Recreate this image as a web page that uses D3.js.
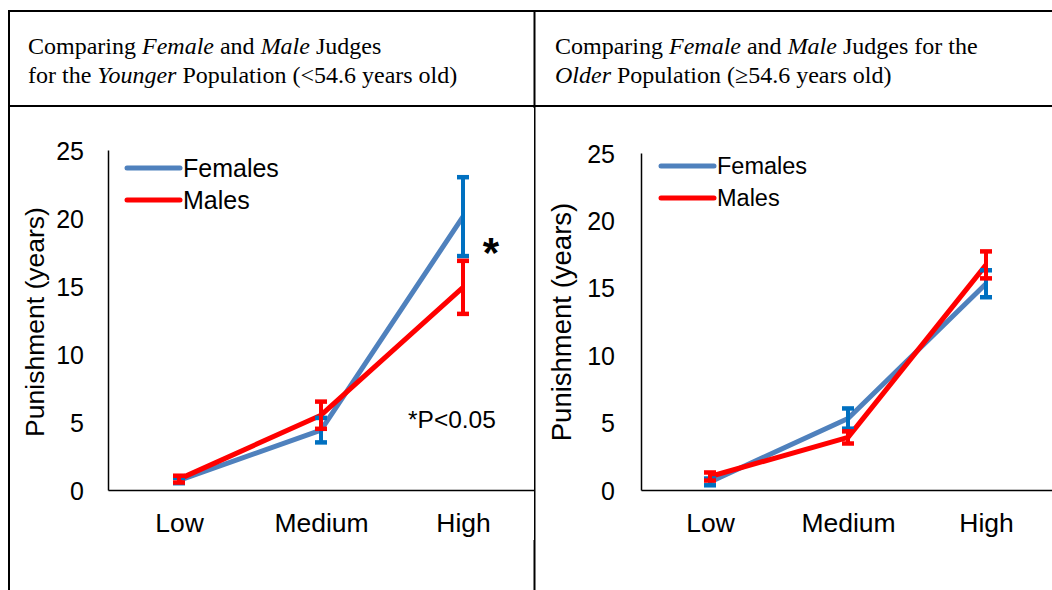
<!DOCTYPE html>
<html>
<head>
<meta charset="utf-8">
<script src="https://cdn.jsdelivr.net/npm/d3@7"></script>
<style>
  body { margin: 0; background: #fff; }
  svg { display: block; }
  .tick text { font-family: "Liberation Sans", Arial, sans-serif; fill: #000; }
</style>
</head>
<body>
<div id="chart"></div>
<script>
// categories and tick labels
var categories = ['Low', 'Medium', 'High'];
var yTicks = [0, 5, 10, 15, 20, 25];

// younger judges (<54.6)
var youngFemales = [0.7, 4.4, 20.1];
var youngFemalesErr = [0.2, 0.9, 2.9];
var youngMales = [0.8, 5.5, 14.9];
var youngMalesErr = [0.25, 1.0, 1.95];

// older judges (>=54.6)
var oldFemales = [0.6, 5.3, 15.3];
var oldFemalesErr = [0.25, 0.75, 1.0];
var oldMales = [1.0, 3.9, 16.7];
var oldMalesErr = [0.3, 0.45, 1.0];

var W = 1052, H = 590;
var svg = d3.select('#chart').append('svg')
    .attr('width', W)
    .attr('height', H);

/*
 * table frame round the two panels
 */
var frame = svg.append('g').attr('stroke', '#000').attr('stroke-width', 2);
frame.append('line').attr('x1', 8).attr('x2', W).attr('y1', 11).attr('y2', 11);
frame.append('line').attr('x1', 8).attr('x2', W).attr('y1', 106).attr('y2', 106);
frame.append('line').attr('x1', 9).attr('x2', 9).attr('y1', 10).attr('y2', H);
frame.append('line').attr('x1', 534.5).attr('x2', 534.5).attr('y1', 10).attr('y2', H);

function title(x, lines) {
    var t = svg.append('text')
        .attr('font-family', '"Liberation Serif", "Times New Roman", serif')
        .attr('font-size', 24)
        .attr('fill', '#000');
    lines.forEach(function (parts, i) {
        parts.forEach(function (p, j) {
            var s = t.append('tspan').text(p[0]);
            if (j === 0) s.attr('x', x).attr('y', 54 + i * 29);
            if (p[1]) s.attr('font-style', 'italic');
        });
    });
}

title(28, [
    [['Comparing '], ['Female', 1], [' and '], ['Male', 1], [' Judges']],
    [['for the '], ['Younger', 1], [' Population (<54.6 years old)']]
]);
title(555, [
    [['Comparing '], ['Female', 1], [' and '], ['Male', 1], [' Judges for the']],
    [['Older', 1], [' Population (\u226554.6 years old)']]
]);

var femaleColor = '#4F81BD',
    femaleBar = '#0070C0',
    maleColor = '#FF0000';

function panel(o) {
    var g = svg.append('g');
    g.append('rect')
        .attr('x', o.left).attr('y', 108)
        .attr('width', o.w).attr('height', 432)
        .attr('fill', '#fff');

    var x = d3.scalePoint()
        .domain(categories)
        .range([o.x0, o.x1])
        .padding(0.5);
    var y = d3.scaleLinear()
        .domain([0, 25])
        .range([490, o.top]);

    // y axis
    var ya = g.append('g')
        .attr('transform', 'translate(' + o.x0 + ',0)')
        .call(d3.axisLeft(y).tickValues(yTicks).tickSize(0).tickPadding(o.tickPad));
    ya.select('.domain').attr('stroke', '#000').attr('stroke-width', 1.5);
    ya.selectAll('text').attr('font-size', 25).attr('dy', '0.36em');

    // x axis
    var xa = g.append('g')
        .attr('transform', 'translate(0,490)')
        .call(d3.axisBottom(x).tickSize(0).tickPadding(23));
    xa.select('.domain').attr('stroke', '#000').attr('stroke-width', 1.5);
    xa.selectAll('text').attr('font-size', 26.5);

    g.append('text')
        .attr('transform', 'translate(' + o.titleX + ',' + 322 + ') rotate(-90)')
        .attr('text-anchor', 'middle')
        .attr('font-family', '"Liberation Sans", Arial, sans-serif')
        .attr('font-size', o.titleSize)
        .text('Punishment (years)');

    var line = d3.line()
        .x(function (d, i) { return x(categories[i]); })
        .y(function (d) { return y(d); });

    var series = [
        { v: o.females, e: o.femalesErr, c: femaleColor, bar: femaleBar },
        { v: o.males, e: o.malesErr, c: maleColor, bar: maleColor }
    ];

    series.forEach(function (s) {
        g.append('path')
            .datum(s.v)
            .attr('d', line)
            .attr('fill', 'none')
            .attr('stroke', s.c)
            .attr('stroke-width', 5)
            .attr('stroke-linejoin', 'round');
    });

    series.forEach(function (s) {
        var eb = g.append('g').selectAll('g')
            .data(s.v)
            .enter().append('g')
            .attr('stroke', s.bar);
        eb.append('line')
            .attr('x1', function (d, i) { return x(categories[i]); })
            .attr('x2', function (d, i) { return x(categories[i]); })
            .attr('y1', function (d, i) { return y(d - s.e[i]); })
            .attr('y2', function (d, i) { return y(d + s.e[i]); })
            .attr('stroke-width', 4);
        [-1, 1].forEach(function (k) {
            eb.append('line')
                .attr('x1', function (d, i) { return x(categories[i]) - 6; })
                .attr('x2', function (d, i) { return x(categories[i]) + 6; })
                .attr('y1', function (d, i) { return y(d + k * s.e[i]); })
                .attr('y2', function (d, i) { return y(d + k * s.e[i]); })
                .attr('stroke-width', 4.5);
        });
    });

    // legend
    var lg = g.append('g');
    [['Females', femaleColor], ['Males', maleColor]].forEach(function (d, i) {
        var yy = o.legY + i * 32;
        lg.append('line')
            .attr('x1', o.legX).attr('x2', o.legX + 53)
            .attr('y1', yy).attr('y2', yy)
            .attr('stroke', d[1])
            .attr('stroke-width', 5)
            .attr('stroke-linecap', 'round');
        lg.append('text')
            .attr('x', o.legX + 56).attr('y', yy)
            .attr('dy', '0.36em')
            .attr('font-family', '"Liberation Sans", Arial, sans-serif')
            .attr('font-size', o.legSize)
            .text(d[0]);
    });
    return g;
}

var left = panel({
    left: 10, w: 524, x0: 108, x1: 534, top: 150, tickPad: 24,
    titleX: 44, titleSize: 26.5,
    females: youngFemales, femalesErr: youngFemalesErr,
    males: youngMales, malesErr: youngMalesErr,
    legX: 127, legY: 168, legSize: 25
});
left.append('text')
    .attr('x', 491).attr('y', 267)
    .attr('text-anchor', 'middle')
    .attr('font-family', '"Liberation Sans", Arial, sans-serif')
    .attr('font-weight', 'bold')
    .attr('font-size', 42)
    .text('*');
left.append('text')
    .attr('x', 408).attr('y', 428)
    .attr('font-family', '"Liberation Sans", Arial, sans-serif')
    .attr('font-size', 24.5)
    .text('*P<0.05');

panel({
    left: 537, w: 515, x0: 641, x1: 1055, top: 153, tickPad: 26,
    titleX: 571, titleSize: 27.5,
    females: oldFemales, femalesErr: oldFemalesErr,
    males: oldMales, malesErr: oldMalesErr,
    legX: 661, legY: 166, legSize: 23.5
});
</script>
</body>
</html>
